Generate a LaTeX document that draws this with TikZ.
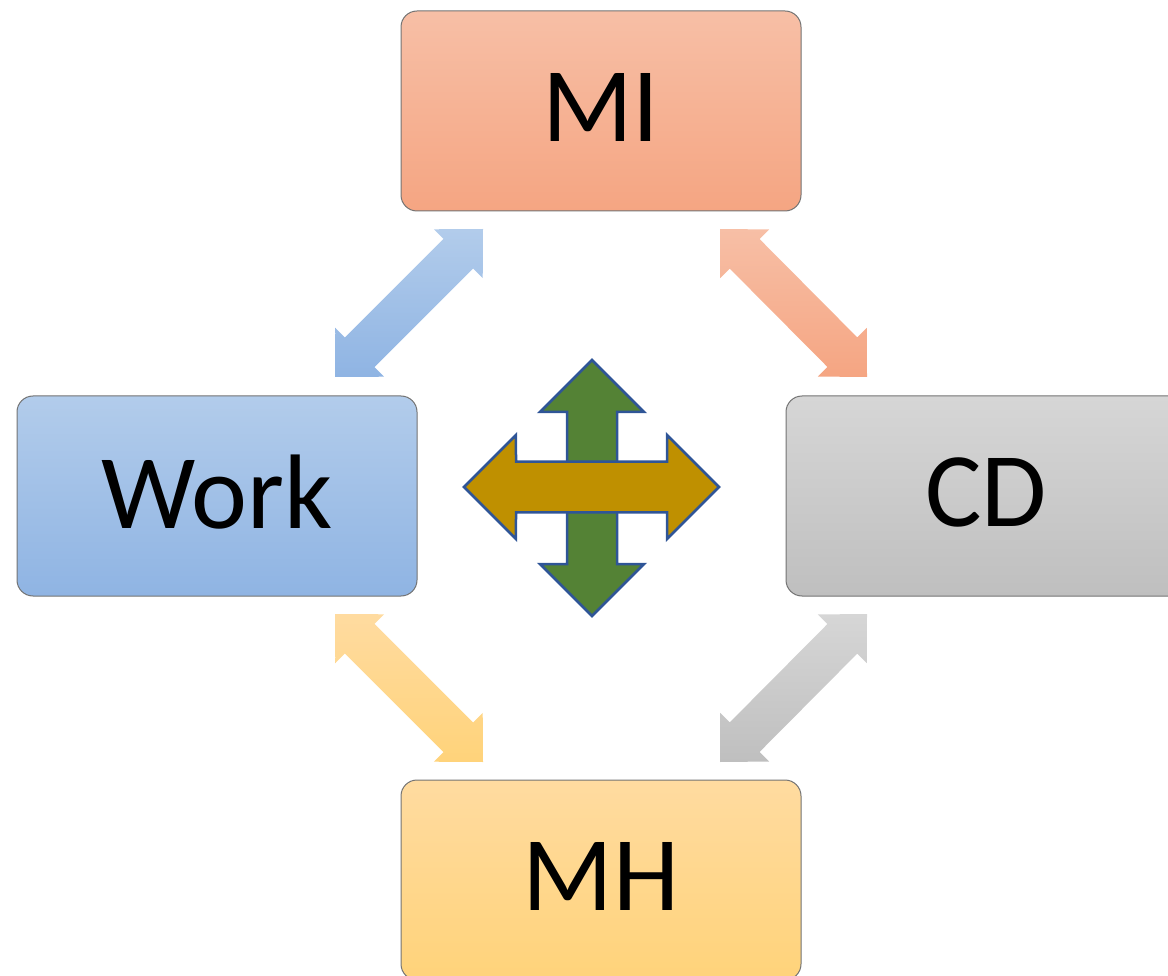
\documentclass[tikz,border=0pt]{standalone}
\usepackage{fontspec}
\setmainfont{Carlito}
\usepackage{tikz}
\usetikzlibrary{calc, positioning}
\usepackage{xcolor}
\definecolor{mitop}{RGB}{247,191,166}
\definecolor{mibot}{RGB}{245,165,130}
\definecolor{worktop}{RGB}{178,204,235}
\definecolor{workbot}{RGB}{143,180,227}
\definecolor{cdtop}{RGB}{214,214,214}
\definecolor{cdbot}{RGB}{191,191,191}
\definecolor{mhtop}{RGB}{255,219,160}
\definecolor{mhbot}{RGB}{255,211,122}
\definecolor{crossgreen}{RGB}{84,130,53}
\definecolor{crossgold}{RGB}{191,144,0}
\definecolor{crossedge}{RGB}{47,85,151}

% fat double arrow: style, tip a, tip b, head length, head half width, shaft half width
\newcommand{\dblarrow}[6]{%
  \pgfmathsetmacro\hd{veclen(#4,#5)}\pgfmathsetmacro\ha{atan2(#5,#4)}%
  \pgfmathsetmacro\nd{veclen(#4,#6)}\pgfmathsetmacro\na{atan2(#6,#4)}%
  \path[#1] (#2) -- ($(#2)!\hd pt!\ha:(#3)$) -- ($(#2)!\nd pt!\na:(#3)$)
    -- ($(#3)!\nd pt!-\na:(#2)$) -- ($(#3)!\hd pt!-\ha:(#2)$) -- (#3)
    -- ($(#3)!\hd pt!\ha:(#2)$) -- ($(#3)!\nd pt!\na:(#2)$)
    -- ($(#2)!\nd pt!-\na:(#3)$) -- ($(#2)!\hd pt!-\ha:(#3)$) -- cycle;}

\begin{document}
\begin{tikzpicture}[x=1pt, y=-1pt,
  box/.style={draw=black!55, line width=1pt, rounded corners=16pt,
    minimum width=400pt, minimum height=200pt, text depth=8pt,
    font=\fontsize{106}{116}\selectfont},
  cross/.style={draw=crossedge, line width=2.5pt, line join=miter}]
  \useasboundingbox (0,0) rectangle (1168,976);

  % the four boxes
  \node[box, top color=mitop, bottom color=mibot] (mi) at (601,111) {MI};
  \node[box, top color=worktop, bottom color=workbot] (work) at (217,496) {Work};
  \node[box, top color=cdtop, bottom color=cdbot] (cd) at (986,496) {CD};
  \node[box, top color=mhtop, bottom color=mhbot] (mh) at (601,880) {MH};

  % arrow tips between the boxes
  \coordinate (wm-a) at (335,377); \coordinate (wm-b) at (483,229);
  \coordinate (mc-a) at (720,229); \coordinate (mc-b) at (867,377);
  \coordinate (cm-a) at (867,614); \coordinate (cm-b) at (720,762);
  \coordinate (wh-a) at (335,614); \coordinate (wh-b) at (483,762);
  \dblarrow{top color=worktop, bottom color=workbot}{wm-a}{wm-b}{35}{34.6}{21}
  \dblarrow{top color=mitop, bottom color=mibot}{mc-a}{mc-b}{35}{34.6}{21}
  \dblarrow{top color=cdtop, bottom color=cdbot}{cm-a}{cm-b}{35}{34.6}{21}
  \dblarrow{top color=mhtop, bottom color=mhbot}{wh-a}{wh-b}{35}{34.6}{21}

  % the cross in the middle
  \coordinate (up) at (592,360); \coordinate (down) at (592,616);
  \coordinate (left) at (464,487); \coordinate (right) at (719,487);
  \dblarrow{cross, fill=crossgreen}{up}{down}{52}{52}{25}
  \dblarrow{cross, fill=crossgold}{left}{right}{52}{52}{25.5}
\end{tikzpicture}
\end{document}
